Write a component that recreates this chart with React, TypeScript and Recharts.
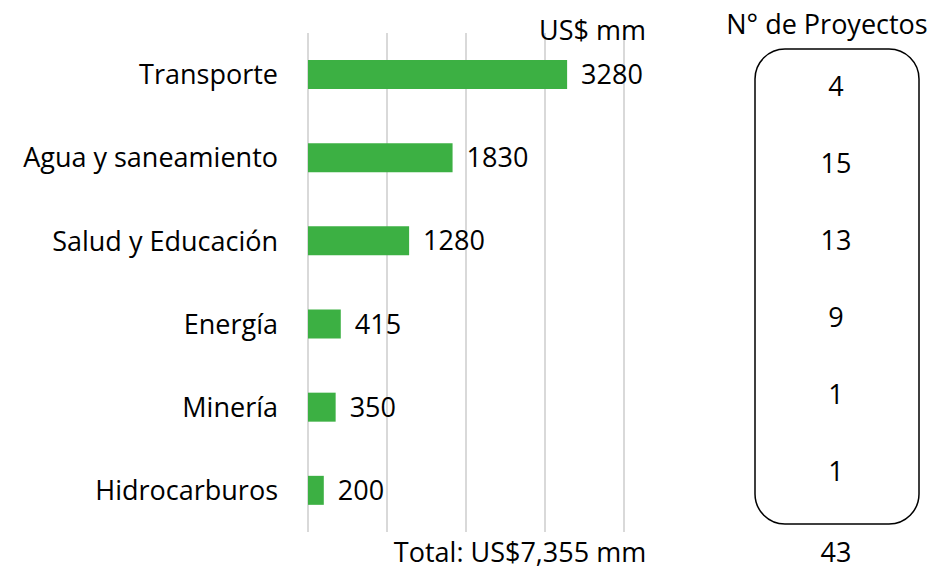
import { BarChart, Bar, XAxis, YAxis, CartesianGrid, LabelList } from "recharts";

const sectors = [
  "Transporte",
  "Agua y saneamiento",
  "Salud y Educación",
  "Energía",
  "Minería",
  "Hidrocarburos",
];
const amounts = [3280, 1830, 1280, 415, 350, 200];
const projects = [4, 15, 13, 9, 1, 1];
const xTicks = [0, 1000, 2000, 3000, 4000];
const totalAmountLabel = "Total: US$7,355 mm";
const totalProjects = 43;

const FONT = "'Open Sans', sans-serif";
const FS = 27;
const GREEN = "#3cb043";

const data = sectors.map((s, i) => ({ sector: s, amount: amounts[i] }));

export default function App() {
  return (
    <div style={{ position: "absolute", left: 0, top: 0, width: 934, height: 569, background: "#fff", fontFamily: FONT }}>
      <BarChart
        width={934}
        height={569}
        data={data}
        layout="vertical"
        margin={{ top: 33, right: 310, bottom: 37, left: 8 }}
      >
        <CartesianGrid horizontal={false} stroke="#d9d9d9" strokeWidth={2} />
        <XAxis type="number" domain={[0, 4000]} ticks={xTicks} hide />
        <YAxis
          type="category"
          dataKey="sector"
          width={300}
          axisLine={false}
          tickLine={false}
          tickSize={0}
          tickMargin={30}
          tick={{ fill: "#000", fontSize: FS, fontFamily: FONT }}
        />
        <Bar dataKey="amount" fill={GREEN} barSize={29} isAnimationActive={false}>
          <LabelList
            dataKey="amount"
            position="right"
            offset={14}
            style={{ fill: "#000", fontSize: FS, fontFamily: FONT }}
          />
        </Bar>
      </BarChart>
      <svg width={934} height={569} style={{ position: "absolute", left: 0, top: 0, pointerEvents: "none" }}>
        <text x={646} y={40} textAnchor="end" fontSize={FS} fontFamily={FONT} fill="#000">
          US$ mm
        </text>
        <text x={520} y={562} textAnchor="middle" fontSize={FS} fontFamily={FONT} fill="#000">
          {totalAmountLabel}
        </text>
        <text x={827} y={34} textAnchor="middle" fontSize={FS} fontFamily={FONT} fill="#000">
          N° de Proyectos
        </text>
        <rect x={755} y={49} width={164} height={475} rx={30} ry={30} fill="none" stroke="#000" strokeWidth={1.5} />
        {projects.map((p, i) => (
          <text
            key={i}
            x={836}
            y={85 + i * 77}
            textAnchor="middle"
            dominantBaseline="central"
            fontSize={FS}
            fontFamily={FONT}
            fill="#000"
          >
            {p}
          </text>
        ))}
        <text x={836} y={562} textAnchor="middle" fontSize={FS} fontFamily={FONT} fill="#000">
          {totalProjects}
        </text>
      </svg>
    </div>
  );
}
